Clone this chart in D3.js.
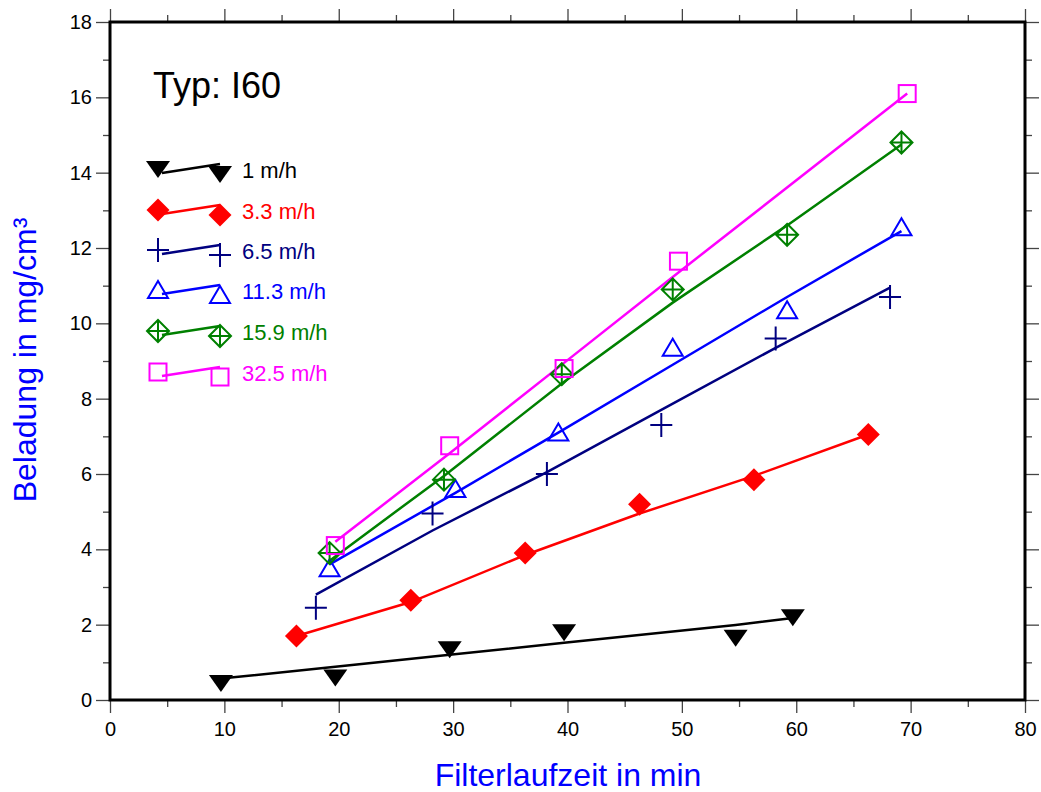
<!DOCTYPE html>
<html>
<head>
<meta charset="utf-8">
<script src="https://cdn.jsdelivr.net/npm/d3@7"></script>
<style>
  body { margin: 0; background: #fff; }
  text { font-family: "Liberation Sans", Arial, sans-serif; }
</style>
</head>
<body>
<div id="chart"></div>
<script>
// series names, colours and symbol shapes
var names = ["1 m/h", "3.3 m/h", "6.5 m/h", "11.3 m/h", "15.9 m/h", "32.5 m/h"];
var colors = ["#000000", "#ff0000", "#000080", "#0000ff", "#008000", "#ff00ff"];
var symbols = ["triDown", "diamond", "plus", "triUp", "diamondCross", "square"];

// measured points (Filterlaufzeit in min, Beladung in mg/cm3)
var xs1 = [9.7, 19.7, 29.7, 39.7, 54.7, 59.7];
var ys1 = [0.45, 0.6, 1.35, 1.8, 1.65, 2.2];
var xs2 = [16.3, 26.3, 36.3, 46.3, 56.3, 66.3];
var ys2 = [1.7, 2.65, 3.9, 5.2, 5.85, 7.05];
var xs3 = [18.0, 28.2, 38.2, 48.2, 58.2, 68.2];
var ys3 = [2.45, 4.95, 6.0, 7.3, 9.6, 10.7];
var xs4 = [19.2, 30.2, 39.2, 49.2, 59.2, 69.2];
var ys4 = [3.5, 5.6, 7.1, 9.35, 10.35, 12.55];
var xs5 = [19.2, 29.2, 39.5, 49.2, 59.2, 69.2];
var ys5 = [3.9, 5.85, 8.65, 10.9, 12.35, 14.8];
var xs6 = [19.7, 29.7, 39.7, 49.7, 69.7];
var ys6 = [4.1, 6.75, 8.8, 11.65, 16.1];

// fitted curves (same x as the points)
var fit1 = [0.57, 0.88, 1.2, 1.52, 1.99, 2.18];
var fit2 = [1.7, 2.6, 3.85, 4.95, 5.95, 7.05];
var fit3 = [2.8, 4.5, 6.05, 7.7, 9.35, 10.95];
var fit4 = [3.6, 5.5, 7.1, 8.9, 10.7, 12.45];
var fit5 = [3.7, 5.95, 8.4, 10.55, 12.6, 14.75];
var fit6 = [4.2, 6.55, 8.95, 11.35, 16.1];

var xTicks = [0, 10, 20, 30, 40, 50, 60, 70, 80];
var yTicks = [0, 2, 4, 6, 8, 10, 12, 14, 16, 18];

var series = [
  {x: xs1, y: ys1, fit: fit1},
  {x: xs2, y: ys2, fit: fit2},
  {x: xs3, y: ys3, fit: fit3},
  {x: xs4, y: ys4, fit: fit4},
  {x: xs5, y: ys5, fit: fit5},
  {x: xs6, y: ys6, fit: fit6}
];

var W = 1041, H = 792;
var margin = {top: 22, right: 16, bottom: 92, left: 110};
var width = W - margin.left - margin.right,
    height = H - margin.top - margin.bottom;

var svg = d3.select("#chart")
  .append("svg")
  .attr("width", W)
  .attr("height", H);

var g = svg.append("g")
  .attr("transform", "translate(" + margin.left + "," + margin.top + ")");

var x = d3.scaleLinear().domain([0, 80]).range([0, width]);
var y = d3.scaleLinear().domain([0, 18]).range([height, 0]);

// draw a symbol at (cx, cy)
function drawSymbol(sel, type, cx, cy, color) {
  var s = sel.append("g").attr("transform", "translate(" + cx + "," + cy + ")");
  if (type == "triDown") {
    s.append("path").attr("d", "M-12,-8 L12,-8 L0,9 Z").attr("fill", color);
  } else if (type == "diamond") {
    s.append("path").attr("d", "M0,-11.5 L11.5,0 L0,11.5 L-11.5,0 Z").attr("fill", color);
  } else if (type == "plus") {
    s.append("path").attr("d", "M-11,0 L11,0 M0,-12 L0,12")
      .attr("stroke", color).attr("stroke-width", 2).attr("fill", "none");
  } else if (type == "triUp") {
    s.append("path").attr("d", "M0,-9 L10,8 L-10,8 Z")
      .attr("stroke", color).attr("stroke-width", 2).attr("fill", "none");
  } else if (type == "diamondCross") {
    s.append("path").attr("d", "M0,-11 L11,0 L0,11 L-11,0 Z M-11,0 L11,0 M0,-11 L0,11")
      .attr("stroke", color).attr("stroke-width", 2).attr("fill", "none");
  } else if (type == "square") {
    s.append("rect").attr("x", -8.5).attr("y", -8.5).attr("width", 17).attr("height", 17)
      .attr("stroke", color).attr("stroke-width", 2).attr("fill", "none");
  }
}

// ticks, bottom
var xMinor = d3.range(5, 80, 10);
var yMinor = d3.range(1, 18, 2);

var xAxis = g.append("g")
  .attr("transform", "translate(0," + height + ")")
  .call(d3.axisBottom(x).tickValues(xTicks).tickSize(13).tickPadding(9).tickFormat(d3.format("d")));
xAxis.selectAll("text").style("font-size", "20px").attr("fill", "#000");
g.append("g").attr("transform", "translate(0," + height + ")")
  .call(d3.axisBottom(x).tickValues(xMinor).tickSize(7).tickFormat(""));

// ticks, top
g.append("g").call(d3.axisTop(x).tickValues(xTicks).tickSize(13).tickFormat(""));
g.append("g").call(d3.axisTop(x).tickValues(xMinor).tickSize(7).tickFormat(""));

// ticks, left
var yAxis = g.append("g")
  .call(d3.axisLeft(y).tickValues(yTicks).tickSize(14).tickPadding(4).tickFormat(d3.format("d")));
yAxis.selectAll("text").style("font-size", "20px").attr("fill", "#000");
g.append("g").call(d3.axisLeft(y).tickValues(yMinor).tickSize(7).tickFormat(""));

// ticks, right
g.append("g").attr("transform", "translate(" + width + ",0)")
  .call(d3.axisRight(y).tickValues(yTicks).tickSize(14).tickFormat(""));
g.append("g").attr("transform", "translate(" + width + ",0)")
  .call(d3.axisRight(y).tickValues(yMinor).tickSize(7).tickFormat(""));

g.selectAll(".domain").remove();
g.selectAll(".tick line").attr("stroke", "#444").attr("stroke-width", 1.3);

// frame
g.append("rect")
  .attr("x", 0).attr("y", 0)
  .attr("width", width).attr("height", height)
  .attr("fill", "none").attr("stroke", "#000").attr("stroke-width", 3);

// fitted lines
var line = d3.line()
  .x(function(d) { return x(d[0]); })
  .y(function(d) { return y(d[1]); });

series.forEach(function(s, i) {
  var pts = s.x.map(function(v, j) { return [v, s.fit[j]]; });
  g.append("path")
    .datum(pts)
    .attr("d", line)
    .attr("fill", "none")
    .attr("stroke", colors[i])
    .attr("stroke-width", 2.5);
});

// points
series.forEach(function(s, i) {
  s.x.forEach(function(v, j) {
    drawSymbol(g, symbols[i], x(v), y(s.y[j]), colors[i]);
  });
});

// legend
var legendY = [170, 211, 251, 291, 332, 373];
names.forEach(function(n, i) {
  var ly = legendY[i];
  svg.append("line")
    .attr("x1", 162).attr("y1", ly + 3)
    .attr("x2", 220).attr("y2", ly - 6)
    .attr("stroke", colors[i]).attr("stroke-width", 2.5);
  drawSymbol(svg, symbols[i], 158, ly - 1, colors[i]);
  drawSymbol(svg, symbols[i], 220, ly + 4, colors[i]);
  svg.append("text")
    .attr("x", 242).attr("y", ly + 8)
    .attr("fill", colors[i])
    .style("font-size", "22px")
    .text(n);
});

svg.append("text")
  .attr("x", 153).attr("y", 98)
  .style("font-size", "36px")
  .text("Typ: I60");

// axis titles
svg.append("text")
  .attr("x", 568).attr("y", 786)
  .attr("text-anchor", "middle")
  .attr("fill", "#0000ff")
  .style("font-size", "32px")
  .text("Filterlaufzeit in min");

svg.append("text")
  .attr("transform", "translate(36," + 360 + ") rotate(-90)")
  .attr("text-anchor", "middle")
  .attr("fill", "#0000ff")
  .style("font-size", "32px")
  .text("Beladung in mg/cm³");
</script>
</body>
</html>
